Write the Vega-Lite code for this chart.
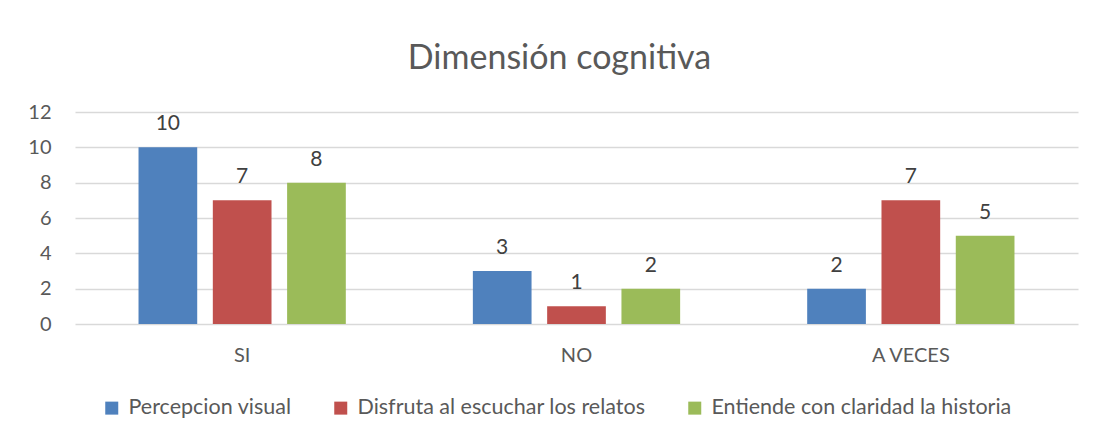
{
  "$schema": "https://vega.github.io/schema/vega-lite/v6.json",
  "width": 1003,
  "height": 212,
  "autosize": "none",
  "padding": {"left": 75, "top": 112, "right": 16, "bottom": 117},
  "background": "white",
  "title": {"text": "Dimensión cognitiva", "fontSize": 34, "font": "Lato", "fontWeight": "normal", "color": "#595959", "offset": 26, "anchor": "middle", "frame": "group", "dx": -17},
  "data": {"values": [
    {"cat": "SI", "serie": "Percepcion visual", "valor": 10},
    {"cat": "SI", "serie": "Disfruta al escuchar los relatos", "valor": 7},
    {"cat": "SI", "serie": "Entiende con claridad la historia", "valor": 8},
    {"cat": "NO", "serie": "Percepcion visual", "valor": 3},
    {"cat": "NO", "serie": "Disfruta al escuchar los relatos", "valor": 1},
    {"cat": "NO", "serie": "Entiende con claridad la historia", "valor": 2},
    {"cat": "A VECES", "serie": "Percepcion visual", "valor": 2},
    {"cat": "A VECES", "serie": "Disfruta al escuchar los relatos", "valor": 7},
    {"cat": "A VECES", "serie": "Entiende con claridad la historia", "valor": 5}
  ]},
  "encoding": {
    "x": {"field": "cat", "type": "nominal", "sort": ["SI", "NO", "A VECES"], "title": null,
      "scale": {"paddingInner": 0.38, "paddingOuter": 0.19},
      "axis": {"labelAngle": 0, "labelFontSize": 20, "labelFont": "Lato", "labelColor": "#595959", "ticks": false, "domain": false, "labelPadding": 21}},
    "xOffset": {"field": "serie", "type": "nominal", "sort": ["Percepcion visual", "Disfruta al escuchar los relatos", "Entiende con claridad la historia"], "scale": {"paddingInner": 0.21, "paddingOuter": 0}},
    "y": {"field": "valor", "type": "quantitative", "title": null,
      "scale": {"domain": [0, 12]},
      "axis": {"values": [0, 2, 4, 6, 8, 10, 12], "labelFontSize": 20, "labelFont": "Lato", "labelColor": "#595959", "ticks": false, "domain": false, "gridColor": "#d9d9d9", "gridWidth": 1.5, "labelPadding": 24}}
  },
  "layer": [
    {"mark": {"type": "bar"},
     "encoding": {"color": {"field": "serie", "type": "nominal", "sort": ["Percepcion visual", "Disfruta al escuchar los relatos", "Entiende con claridad la historia"],
        "scale": {"range": ["#4F81BD", "#C0504D", "#9BBB59"]},
        "legend": {"orient": "none", "legendX": 26, "legendY": 285, "direction": "horizontal", "title": null, "symbolType": "square", "symbolSize": 169, "symbolStrokeWidth": 0, "labelFontSize": 21.5, "labelFont": "Lato", "labelColor": "#595959", "labelLimit": 0, "columnPadding": 38, "labelOffset": 6}}}},
    {"mark": {"type": "text", "baseline": "alphabetic", "dy": -17, "fontSize": 21, "font": "Lato", "color": "#404040"},
     "encoding": {"text": {"field": "valor", "type": "quantitative"}}}
  ],
  "config": {"view": {"stroke": null}}
}
